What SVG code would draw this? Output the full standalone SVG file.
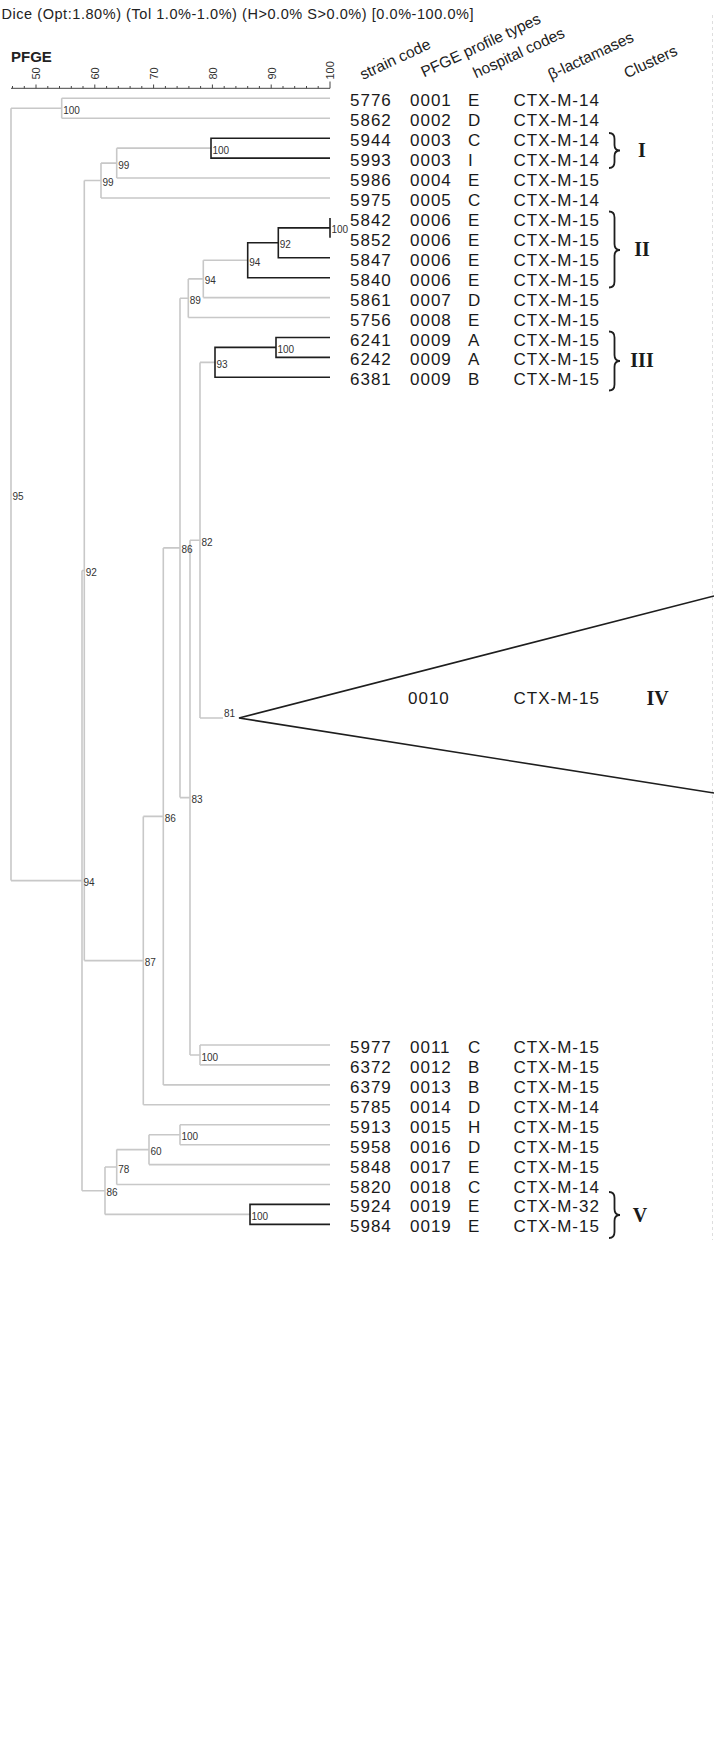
<svg xmlns="http://www.w3.org/2000/svg" width="714" height="1738" viewBox="0 0 714 1738">
<style>
.g{fill:none;stroke:#c8c8c8;stroke-width:1.6}
.k{fill:none;stroke:#1e1e1e;stroke-width:1.6}
.br{fill:none;stroke:#1e1e1e;stroke-width:1.8}
.ax{fill:none;stroke:#444;stroke-width:1}
.t{font-family:"Liberation Sans",Arial,sans-serif;font-size:17px;letter-spacing:1px;fill:#1a1a1a}
.n{font-family:"Liberation Sans",Arial,sans-serif;font-size:10px;fill:#333}
.h{font-family:"Liberation Sans",Arial,sans-serif;font-size:15.5px;fill:#222}
.ti{font-family:"Liberation Sans",Arial,sans-serif;font-size:14.5px;letter-spacing:0.55px;fill:#222}
.sc{font-family:"Liberation Sans",Arial,sans-serif;font-size:11px;fill:#333}
.c{font-family:"Liberation Serif","Times New Roman",serif;font-size:20px;font-weight:bold;fill:#1a1a1a;text-anchor:middle}
</style>
<rect width="714" height="1738" fill="#fff"/>
<text class="ti" x="1.5" y="19">Dice (Opt:1.80%) (Tol 1.0%-1.0%) (H&gt;0.0% S&gt;0.0%) [0.0%-100.0%]</text>
<g id="scale">
<text x="11" y="62" font-family="Liberation Sans,Arial,sans-serif" font-size="15" font-weight="bold" fill="#222">PFGE</text>
<path class="ax" d="M11,88.3H330 M12.5,88.3V86 M24.3,88.3V86 M36,88.3V84.5 M47.8,88.3V86 M59.5,88.3V86 M71.3,88.3V86 M83,88.3V86 M94.8,88.3V84.5 M106.6,88.3V86 M118.3,88.3V86 M130.1,88.3V86 M141.8,88.3V86 M153.6,88.3V84.5 M165.4,88.3V86 M177.1,88.3V86 M188.9,88.3V86 M200.6,88.3V86 M212.4,88.3V84.5 M224.2,88.3V86 M235.9,88.3V86 M247.7,88.3V86 M259.4,88.3V86 M271.2,88.3V84.5 M283,88.3V86 M294.7,88.3V86 M306.5,88.3V86 M318.2,88.3V86 M330,88.3V81.5"/>
<text class="sc" transform="translate(40.3,79.5) rotate(-90)">50</text>
<text class="sc" transform="translate(99.1,79.5) rotate(-90)">60</text>
<text class="sc" transform="translate(157.9,79.5) rotate(-90)">70</text>
<text class="sc" transform="translate(216.7,79.5) rotate(-90)">80</text>
<text class="sc" transform="translate(275.5,79.5) rotate(-90)">90</text>
<text class="sc" transform="translate(334.3,79.5) rotate(-90)">100</text>
</g>
<g id="headers">
<text class="h" transform="translate(363,80) rotate(-25)">strain code</text>
<text class="h" transform="translate(424,77.5) rotate(-25)">PFGE profile types</text>
<text class="h" transform="translate(476,78.5) rotate(-25)">hospital codes</text>
<text class="h" transform="translate(551,80) rotate(-25)">β-lactamases</text>
<text class="h" transform="translate(627,78.5) rotate(-25)">Clusters</text>
</g>
<path d="M712.5,15V1240" fill="none" stroke="#dedede" stroke-width="1" stroke-dasharray="3,3"/>
<g id="connectors">
<path class="g" d="M11,108.25V880.6 M61.7,98.3V118.2 M116.7,148.15V178 M101,163.1V198 M203.3,260.2V297.6 M188.3,278.9V317.5 M200,362.4V718 M200,1045V1064.9 M190,540.2V1055 M180,298.2V797.6 M163.3,547.9V1084.9 M143.3,816.4V1104.8 M84.3,180.5V960.6 M180,1124.7V1144.7 M149,1134.7V1164.6 M116.7,1149.6V1184.5 M105,1167V1214.4 M82,570.55V1190.7"/>
<path class="g" d="M11,108.25H61.7 M61.7,98.3H330 M61.7,118.2H330 M84.3,180.5H101 M101,163.1H116.7 M116.7,148.15H211 M116.7,178H330 M101,198H330 M188.3,278.9H203.3 M203.3,260.2H247.7 M203.3,297.6H330 M188.3,317.5H330 M180,298.2H188.3 M190,540.2H200 M200,362.4H215 M200,718H223 M163.3,547.9H180 M190,1055H200 M200,1045H330 M200,1064.9H330 M180,797.6H190 M163.3,1084.9H330 M143.3,816.4H163.3 M143.3,1104.8H330 M84.3,960.6H143.3 M82,570.55H84.3 M11,880.6H82 M82,1190.7H105 M105,1167H116.7 M116.7,1184.5H330 M116.7,1149.6H149 M149,1164.6H330 M149,1134.7H180 M180,1124.7H330 M180,1144.7H330 M105,1214.4H250"/>
<path class="k" d="M330,138.2H211V158.1H330"/>
<path class="k" d="M330,217.9V237.8 M330,227.85H278.3V257.7H330 M278.3,242.8H247.7V277.7H330"/>
<path class="k" d="M330,337.5H276V357.4H330 M276,347.4H215V377.3H330"/>
<path class="k" d="M330,1204.4H250V1224.4H330"/>
</g>
<g id="node-labels">
<text class="n" x="63.2" y="113.8">100</text>
<text class="n" x="212.5" y="153.7">100</text>
<text class="n" x="118.2" y="168.6">99</text>
<text class="n" x="102.5" y="186">99</text>
<text class="n" x="331.5" y="233.4">100</text>
<text class="n" x="279.8" y="248.3">92</text>
<text class="n" x="249.2" y="265.7">94</text>
<text class="n" x="204.8" y="284.4">94</text>
<text class="n" x="189.8" y="303.7">89</text>
<text class="n" x="277.5" y="352.9">100</text>
<text class="n" x="216.5" y="367.9">93</text>
<text class="n" x="201.5" y="545.7">82</text>
<text class="n" x="224" y="716.5">81</text>
<text class="n" x="201.5" y="1060.5">100</text>
<text class="n" x="191.5" y="803.1">83</text>
<text class="n" x="181.5" y="553.4">86</text>
<text class="n" x="164.8" y="821.9">86</text>
<text class="n" x="144.8" y="966.1">87</text>
<text class="n" x="85.8" y="576">92</text>
<text class="n" x="181.5" y="1140.2">100</text>
<text class="n" x="150.5" y="1155.1">60</text>
<text class="n" x="118.2" y="1172.5">78</text>
<text class="n" x="251.5" y="1219.9">100</text>
<text class="n" x="106.5" y="1196.2">86</text>
<text class="n" x="83.5" y="886.1">94</text>
<text class="n" x="12.5" y="499.9">95</text>
</g>
<g id="rows" class="t">
<g id="r5776"><text x="350" y="106.3">5776</text><text x="410" y="106.3">0001</text><text x="468" y="106.3">E</text><text x="513.5" y="106.3">CTX-M-14</text></g>
<g id="r5862"><text x="350" y="126.2">5862</text><text x="410" y="126.2">0002</text><text x="468" y="126.2">D</text><text x="513.5" y="126.2">CTX-M-14</text></g>
<g id="r5944"><text x="350" y="146.2">5944</text><text x="410" y="146.2">0003</text><text x="468" y="146.2">C</text><text x="513.5" y="146.2">CTX-M-14</text></g>
<g id="r5993"><text x="350" y="166.1">5993</text><text x="410" y="166.1">0003</text><text x="468" y="166.1">I</text><text x="513.5" y="166.1">CTX-M-14</text></g>
<g id="r5986"><text x="350" y="186">5986</text><text x="410" y="186">0004</text><text x="468" y="186">E</text><text x="513.5" y="186">CTX-M-15</text></g>
<g id="r5975"><text x="350" y="206">5975</text><text x="410" y="206">0005</text><text x="468" y="206">C</text><text x="513.5" y="206">CTX-M-14</text></g>
<g id="r5842"><text x="350" y="225.9">5842</text><text x="410" y="225.9">0006</text><text x="468" y="225.9">E</text><text x="513.5" y="225.9">CTX-M-15</text></g>
<g id="r5852"><text x="350" y="245.8">5852</text><text x="410" y="245.8">0006</text><text x="468" y="245.8">E</text><text x="513.5" y="245.8">CTX-M-15</text></g>
<g id="r5847"><text x="350" y="265.7">5847</text><text x="410" y="265.7">0006</text><text x="468" y="265.7">E</text><text x="513.5" y="265.7">CTX-M-15</text></g>
<g id="r5840"><text x="350" y="285.7">5840</text><text x="410" y="285.7">0006</text><text x="468" y="285.7">E</text><text x="513.5" y="285.7">CTX-M-15</text></g>
<g id="r5861"><text x="350" y="305.6">5861</text><text x="410" y="305.6">0007</text><text x="468" y="305.6">D</text><text x="513.5" y="305.6">CTX-M-15</text></g>
<g id="r5756"><text x="350" y="325.5">5756</text><text x="410" y="325.5">0008</text><text x="468" y="325.5">E</text><text x="513.5" y="325.5">CTX-M-15</text></g>
<g id="r6241"><text x="350" y="345.5">6241</text><text x="410" y="345.5">0009</text><text x="468" y="345.5">A</text><text x="513.5" y="345.5">CTX-M-15</text></g>
<g id="r6242"><text x="350" y="365.4">6242</text><text x="410" y="365.4">0009</text><text x="468" y="365.4">A</text><text x="513.5" y="365.4">CTX-M-15</text></g>
<g id="r6381"><text x="350" y="385.3">6381</text><text x="410" y="385.3">0009</text><text x="468" y="385.3">B</text><text x="513.5" y="385.3">CTX-M-15</text></g>
<g id="r5977"><text x="350" y="1053">5977</text><text x="410" y="1053">0011</text><text x="468" y="1053">C</text><text x="513.5" y="1053">CTX-M-15</text></g>
<g id="r6372"><text x="350" y="1072.9">6372</text><text x="410" y="1072.9">0012</text><text x="468" y="1072.9">B</text><text x="513.5" y="1072.9">CTX-M-15</text></g>
<g id="r6379"><text x="350" y="1092.9">6379</text><text x="410" y="1092.9">0013</text><text x="468" y="1092.9">B</text><text x="513.5" y="1092.9">CTX-M-15</text></g>
<g id="r5785"><text x="350" y="1112.8">5785</text><text x="410" y="1112.8">0014</text><text x="468" y="1112.8">D</text><text x="513.5" y="1112.8">CTX-M-14</text></g>
<g id="r5913"><text x="350" y="1132.7">5913</text><text x="410" y="1132.7">0015</text><text x="468" y="1132.7">H</text><text x="513.5" y="1132.7">CTX-M-15</text></g>
<g id="r5958"><text x="350" y="1152.7">5958</text><text x="410" y="1152.7">0016</text><text x="468" y="1152.7">D</text><text x="513.5" y="1152.7">CTX-M-15</text></g>
<g id="r5848"><text x="350" y="1172.6">5848</text><text x="410" y="1172.6">0017</text><text x="468" y="1172.6">E</text><text x="513.5" y="1172.6">CTX-M-15</text></g>
<g id="r5820"><text x="350" y="1192.5">5820</text><text x="410" y="1192.5">0018</text><text x="468" y="1192.5">C</text><text x="513.5" y="1192.5">CTX-M-14</text></g>
<g id="r5924"><text x="350" y="1212.4">5924</text><text x="410" y="1212.4">0019</text><text x="468" y="1212.4">E</text><text x="513.5" y="1212.4">CTX-M-32</text></g>
<g id="r5984"><text x="350" y="1232.4">5984</text><text x="410" y="1232.4">0019</text><text x="468" y="1232.4">E</text><text x="513.5" y="1232.4">CTX-M-15</text></g>
</g>
<g id="cluster-IV">
<polyline class="k" points="714,596 239,718 714,793"/>
<text class="t" x="408" y="703.5">0010</text>
<text class="t" x="513.5" y="703.5">CTX-M-15</text>
<text class="c" x="657.6" y="705">IV</text>
</g>
<g id="cluster-I">
<path class="br" d="M609,133Q614.5,133 614.5,139V145Q614.5,150.5 620,150.5Q614.5,150.5 614.5,156V162Q614.5,168 609,168"/>
<text class="c" x="642" y="157.2">I</text>
</g>
<g id="cluster-II">
<path class="br" d="M609,211.5Q614.5,211.5 614.5,217.5V244Q614.5,250 620,250Q614.5,250 614.5,256V281.5Q614.5,287.5 609,287.5"/>
<text class="c" x="642" y="256">II</text>
</g>
<g id="cluster-III">
<path class="br" d="M609,331.5Q614.5,331.5 614.5,337.5V355Q614.5,361 620,361Q614.5,361 614.5,367V384.5Q614.5,390.5 609,390.5"/>
<text class="c" x="642" y="367.2">III</text>
</g>
<g id="cluster-V">
<path class="br" d="M609,1192Q614.5,1192 614.5,1198V1209Q614.5,1215 620,1215Q614.5,1215 614.5,1221V1232Q614.5,1238 609,1238"/>
<text class="c" x="640" y="1221.5">V</text>
</g>
</svg>
